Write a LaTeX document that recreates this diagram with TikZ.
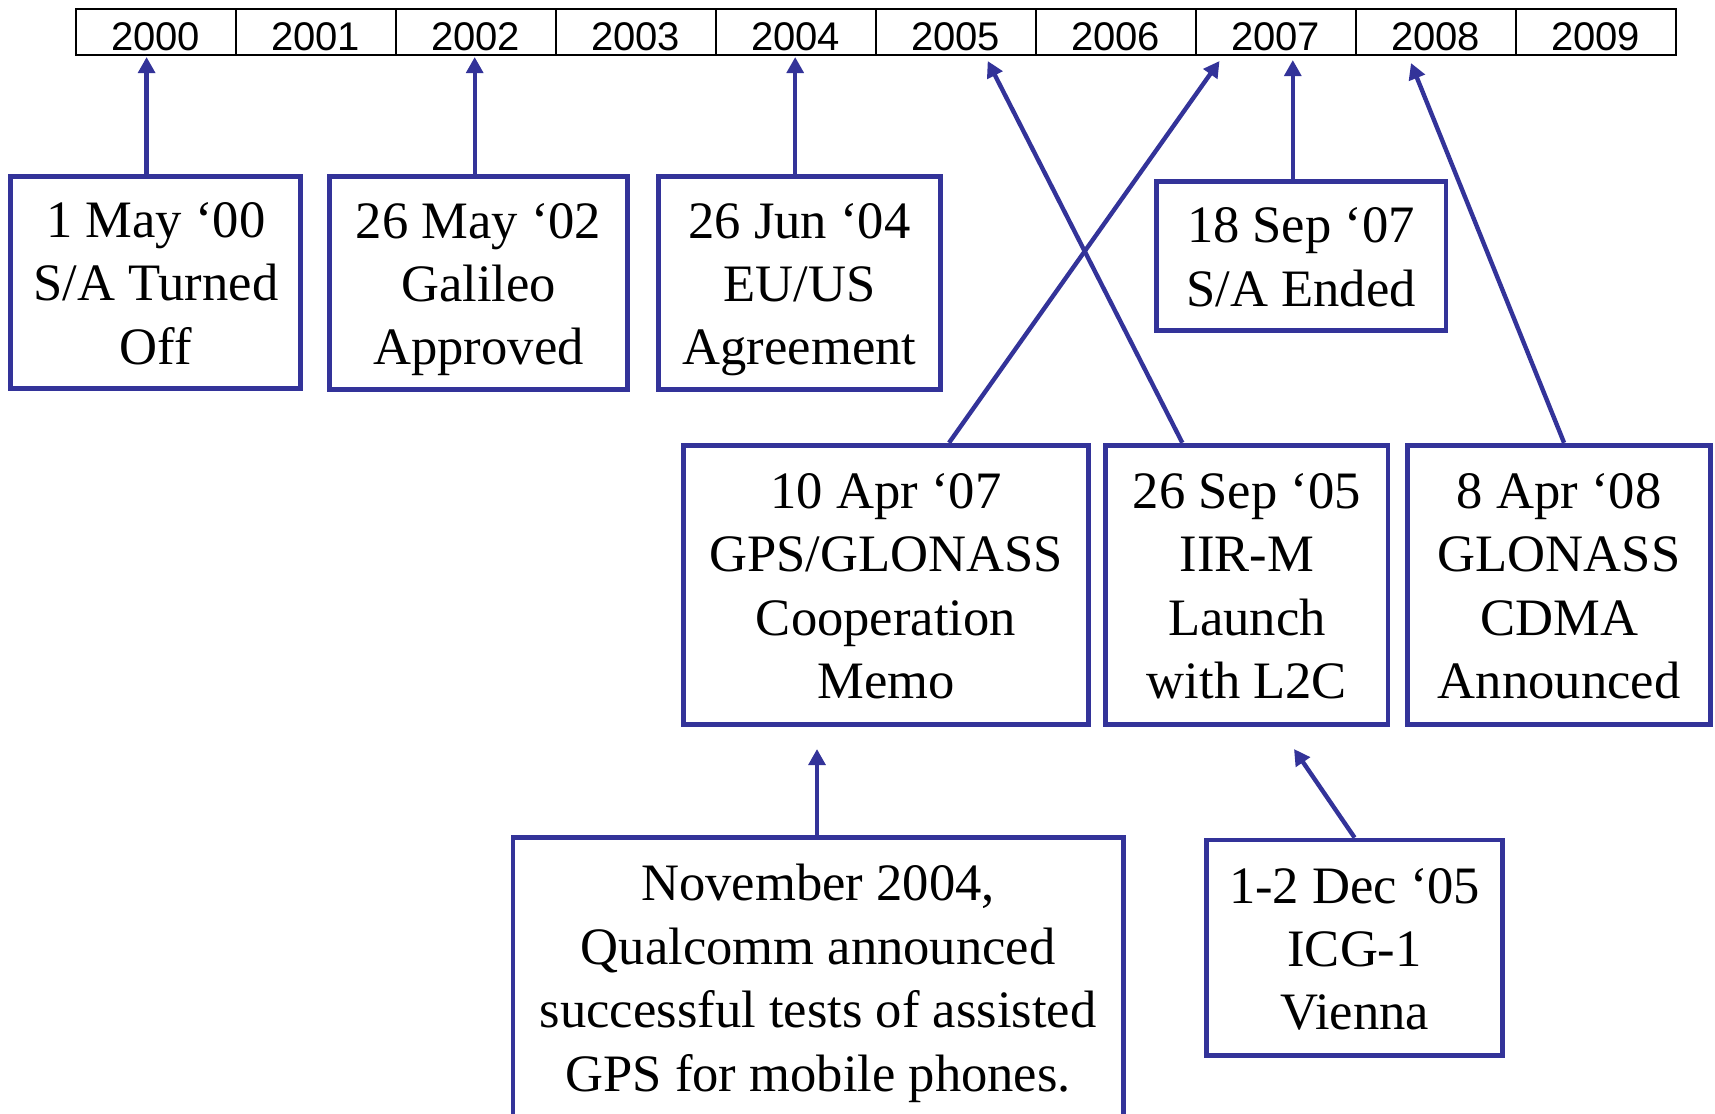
\documentclass[tikz,border=0pt]{standalone}
\usepackage{fontspec}
\setmainfont{Liberation Serif}
\newfontfamily\arialf{Liberation Sans}
\usetikzlibrary{arrows.meta,calc}
\definecolor{pblue}{RGB}{51,51,153}
\newcommand\evtop{\rule{0pt}{24.4pt}}
\newcommand\evbot{\rule[-5.7pt]{0pt}{0pt}}
\begin{document}
\begin{tikzpicture}[x=0.5pt,y=-0.5pt,
  ev/.style={draw=pblue, line width=2.4pt, align=center, inner sep=0pt,
    font=\fontsize{26.3}{31.7}\selectfont, text=black},
  yr/.style={draw=black, line width=1pt, minimum width=80pt, minimum height=23pt,
    inner sep=0pt, text height=19pt, text depth=0pt,
    font=\arialf\fontsize{20}{24}\selectfont},
  arr/.style={draw=pblue, line width=2.2pt, -{Triangle[length=8pt,width=8.3pt]}}]
\useasboundingbox (0,0) rectangle (1715,1114);
% timeline
\foreach \i in {0,...,9}{
  \node[yr] (y200\i) at ({75.6+80+160*\i},31.7) {200\i};
}
% events
\node[ev, minimum width=145pt, minimum height=106.1pt] (b1) at (155.85,282.2)
  {\evtop 1 May ‘00\\S/A Turned\\Off\evbot};
\node[ev, minimum width=149.3pt, minimum height=106.65pt] (b2) at (478.5,282.75)
  {\evtop 26 May ‘02\\Galileo\\Approved\evbot};
\node[ev, minimum width=141.1pt, minimum height=106.65pt] (b3) at (799.5,282.75)
  {\evtop 26 Jun ‘04\\EU/US\\Agreement\evbot};
\node[ev, minimum width=144.9pt, minimum height=74.35pt] (b4) at (1301,255.95)
  {\evtop 18 Sep ‘07\\S/A Ended\evbot};
\node[ev, minimum width=202.35pt, minimum height=139.45pt] (b5) at (885.95,584.65)
  {\evtop 10 Apr ‘07\\GPS/GLONASS\\Cooperation\\Memo\evbot};
\node[ev, minimum width=141.1pt, minimum height=139.45pt] (b6) at (1246.9,584.65)
  {\evtop 26 Sep ‘05\\IIR-M\\Launch\\with L2C\evbot};
\node[ev, minimum width=151.45pt, minimum height=139.45pt] (b7) at (1559.15,584.65)
  {\evtop 8 Apr ‘08\\GLONASS\\CDMA\\Announced\evbot};
\node[ev, minimum width=305.15pt, minimum height=139.45pt] (b8) at (818.15,977.25)
  {\evtop November 2004,\\Qualcomm announced\\successful tests of assisted\\GPS for mobile phones.\evbot};
\node[ev, minimum width=148.2pt, minimum height=107.75pt] (b9) at (1354.6,947.75)
  {\evtop 1-2 Dec ‘05\\ICG-1\\Vienna\evbot};
% arrow targets
\coordinate (t1) at (146.6,57);
\coordinate (t2) at (474.7,57);
\coordinate (t3) at (795.2,57);
\coordinate (t4) at (1292.8,60);
\coordinate (t5) at (1219.5,61);
\coordinate (t6) at (987.7,61);
\coordinate (t7) at (1411,63);
\coordinate (e8) at (817,749);
\coordinate (e9) at (1294,749);
% arrows
\draw[arr] (t1 |- b1.north) -- (t1);
\draw[arr] (t2 |- b2.north) -- (t2);
\draw[arr] (t3 |- b3.north) -- (t3);
\draw[arr] (t4 |- b4.north) -- (t4);
\draw[arr] ($(b5.north west)!0.654!(b5.north east)$) -- (t5);
\draw[arr] ($(b6.north west)!0.275!(b6.north east)$) -- (t6);
\draw[arr] ($(b7.north west)!0.516!(b7.north east)$) -- (t7);
\draw[arr] (e8 |- b8.north) -- (e8);
\draw[arr] (b9.north) -- (e9);
\end{tikzpicture}
\end{document}
